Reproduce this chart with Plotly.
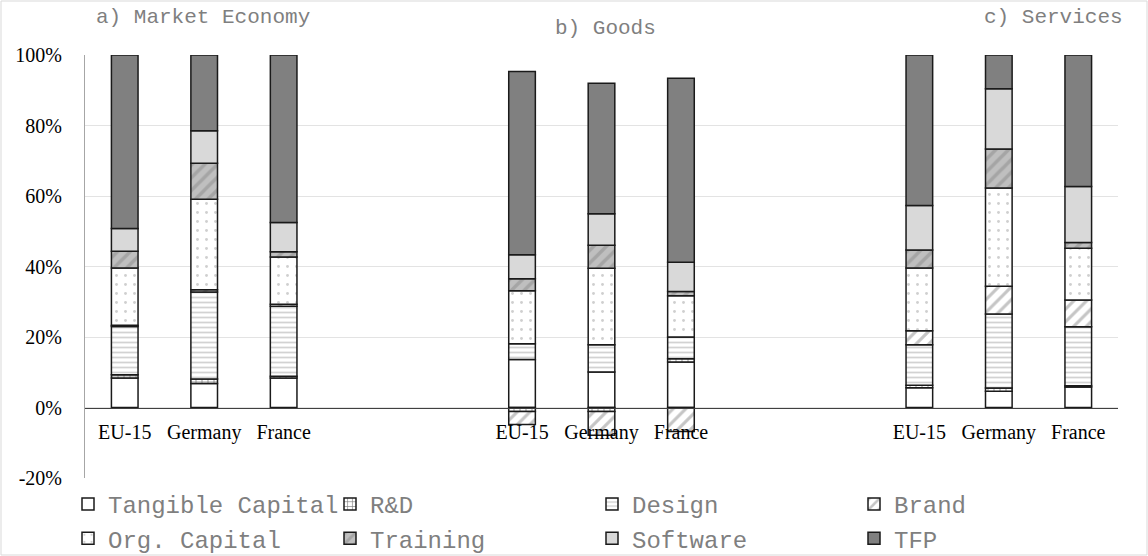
import plotly.graph_objects as go

# ---------------- data ----------------
sectors = ["a) Market Economy", "b) Goods", "c) Services"]
countries = ["EU-15", "Germany", "France"]

# values in % (order: Market Economy EU-15/Germany/France, Goods ..., Services ...)
tangible = [8.4, 6.8, 8.4, 13.6, 10.1, 12.9, 5.6, 4.6, 5.8]
rnd      = [0.9, 1.3, 0.5, -1.1, -1.1, 0.9, 0.7, 0.9, 0.4]
design   = [13.7, 24.7, 19.8, 4.5, 7.7, 6.2, 11.5, 21.0, 16.7]
brand    = [0.3, 0.6, 0.6, -3.7, -6.8, -6.8, 4.0, 7.9, 7.6]
org_cap  = [16.3, 25.7, 13.4, 15.0, 21.7, 11.7, 17.8, 27.9, 14.7]
training = [4.7, 10.2, 1.5, 3.4, 6.5, 1.2, 5.1, 11.0, 1.6]
software = [6.5, 9.2, 8.3, 6.8, 9.0, 8.3, 12.6, 17.1, 15.9]
tfp      = [49.2, 21.5, 47.5, 52.0, 37.0, 52.2, 42.7, 9.6, 37.3]

series_names = ["Tangible Capital", "R&D", "Design", "Brand",
                "Org. Capital", "Training", "Software", "TFP"]
series_values = [tangible, rnd, design, brand, org_cap, training, software, tfp]

ytick_vals = [-20, 0, 20, 40, 60, 80, 100]

# ---------------- styles ----------------
styles = {
    "Tangible Capital": dict(color="white", pattern=dict(shape="")),
    "R&D": dict(color="white", pattern=dict(shape="+", fgcolor="black", bgcolor="white",
                                            size=6, solidity=0.25)),
    "Design": dict(color="white", pattern=dict(shape="-", fgcolor="#a6a6a6", bgcolor="white",
                                               size=5, solidity=0.35)),
    "Brand": dict(color="white", pattern=dict(shape="/", fgcolor="#8c8c8c", bgcolor="white",
                                              size=9, solidity=0.35)),
    "Org. Capital": dict(color="white", pattern=dict(shape=".", fgcolor="#a0a0a0", bgcolor="white",
                                                     size=9, solidity=0.08)),
    "Training": dict(color="#bfbfbf", pattern=dict(shape="/", fgcolor="#8c8c8c", bgcolor="#bfbfbf",
                                                   size=9, solidity=0.4)),
    "Software": dict(color="#d9d9d9", pattern=dict(shape="")),
    "TFP": dict(color="#808080", pattern=dict(shape="")),
}

# slot positions: 3 bars per sector, 2 empty slots between sectors
GROUP_STRIDE = 5
xpos = [g * GROUP_STRIDE + i for g in range(len(sectors)) for i in range(len(countries))]
xlabels = [c for _ in sectors for c in countries]

fig = go.Figure()
for name, vals in zip(series_names, series_values):
    st = styles[name]
    fig.add_trace(go.Bar(
        x=xpos, y=vals, name=name, width=0.335,
        marker=dict(color=st["color"], pattern=st["pattern"],
                    line=dict(color="#1a1a1a", width=1.5)),
    ))

ymin, ymax = -20, 100
W, H = 1148, 556
ml, mr, mt, mb = 85, 30, 55, 78
pw, ph = W - ml - mr, H - mt - mb

def px_x(p):
    return (p - ml) / pw

def px_y(p):
    return (H - mb - p) / ph

fig.update_layout(
    width=W, height=H,
    barmode="relative",
    margin=dict(l=ml, r=mr, t=mt, b=mb, autoexpand=False),
    paper_bgcolor="white", plot_bgcolor="white",
    font=dict(family="Liberation Serif", color="black", size=20),
    xaxis=dict(
        range=[-0.5, xpos[-1] + 0.5],
        tickvals=xpos, ticktext=xlabels,
        anchor="free", position=(0 - ymin) / (ymax - ymin),
        showline=True, linecolor="#404040", linewidth=1,
        showgrid=False, zeroline=False, ticks="",
        tickfont=dict(family="Liberation Serif", size=20, color="black"),
        ticklabelstandoff=6, automargin=False,
    ),
    yaxis=dict(
        range=[ymin, ymax],
        tickvals=ytick_vals, ticktext=[f"{v}%" for v in ytick_vals],
        showgrid=True, gridcolor="#e3e3e3", gridwidth=1,
        zeroline=False, showline=True, linecolor="#a6a6a6", linewidth=1,
        ticks="", ticklabelstandoff=18, automargin=False,
        tickfont=dict(family="Liberation Serif", size=20, color="black"),
    ),
    legend=dict(
        orientation="h", traceorder="normal",
        x=px_x(68), xanchor="left", y=px_y(482), yanchor="top",
        entrywidth=217, entrywidthmode="pixels",
        font=dict(family="Liberation Mono", size=24, color="#7f7f7f"),
        bgcolor="rgba(0,0,0,0)", borderwidth=0,
    ),
    showlegend=True,
)

# sector titles
title_pos = [(203, 17), (605, 28), (1053, 17)]
for txt, (cx, cy) in zip(sectors, title_pos):
    fig.add_annotation(
        text=txt, xref="paper", yref="paper", x=px_x(cx), y=px_y(cy),
        xanchor="center", yanchor="middle", showarrow=False,
        font=dict(family="Liberation Mono", size=21, color="#7f7f7f"),
    )

# outer chart border
fig.add_shape(type="rect", xref="paper", yref="paper",
              x0=px_x(1), x1=px_x(W - 1), y0=px_y(H - 1), y1=px_y(1),
              line=dict(color="#d9d9d9", width=1), fillcolor="rgba(0,0,0,0)", layer="below")

fig.write_html("out.html", config={"displayModeBar": False},
               post_script="document.body.style.margin='0';document.body.style.overflow='hidden';")
